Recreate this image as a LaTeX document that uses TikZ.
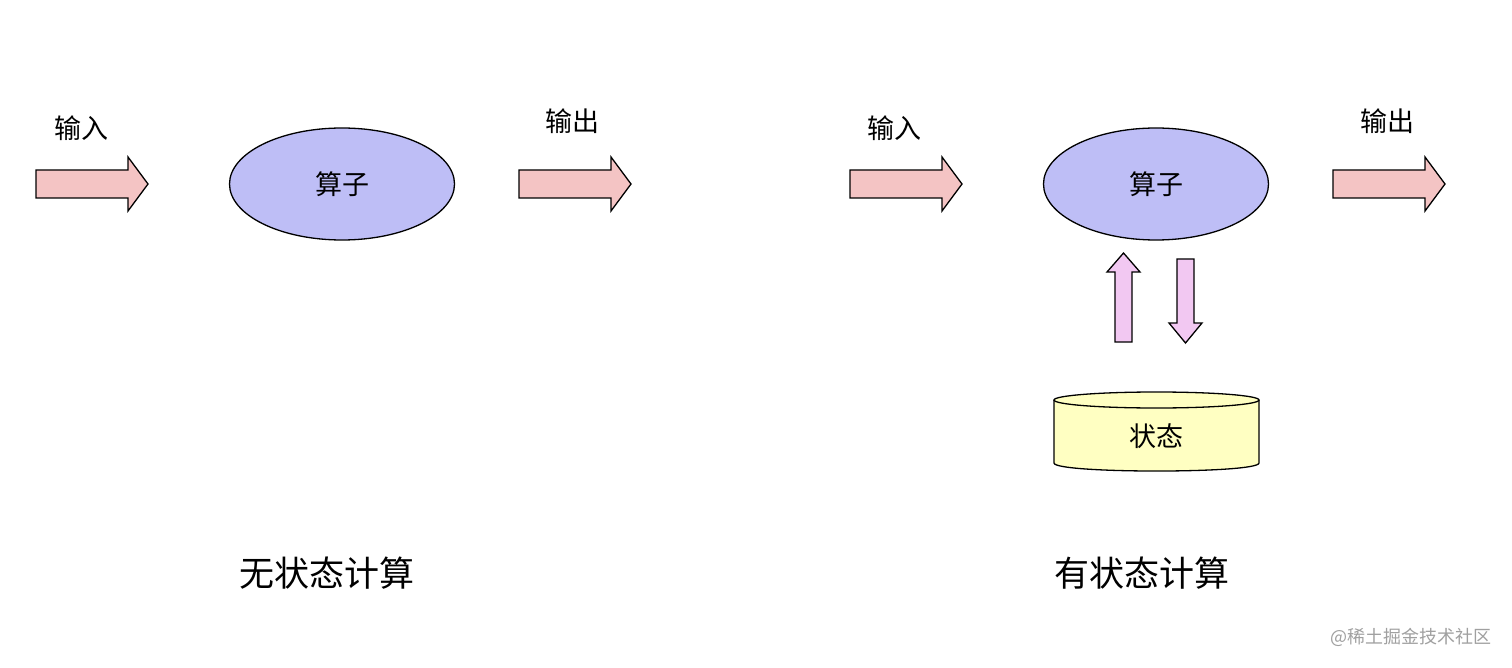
\documentclass[tikz,border=0pt]{standalone}
\usepackage{fontspec}
\newfontfamily\cjk{Noto Sans CJK SC}
\usetikzlibrary{shapes.geometric}
\definecolor{arrowpink}{HTML}{F4C4C4}
\definecolor{opblue}{HTML}{BEBEF6}
\definecolor{statepink}{HTML}{F2C8F2}
\definecolor{stateyellow}{HTML}{FFFFC2}
\definecolor{wmgray}{HTML}{A0A0A0}
\newcommand\myrarrow[3]{% name, x, y
  \draw[flowarrow] (#2,#3) ++(0,-14) -- ++(92,0) -- ++(0,-13) -- ++(20,27) -- ++(-20,27) -- ++(0,-13) -- ++(-92,0) -- cycle;
  \coordinate (#1) at (#2+56,#3);
}
\begin{document}
\begin{tikzpicture}[x=1pt,y=-1pt,
  flowarrow/.style={fill=arrowpink,draw=black,line width=1.3pt,line join=miter},
  statearrow/.style={fill=statepink,draw=black,line width=1.3pt,line join=miter},
  opnode/.style={ellipse,draw=black,line width=1.3pt,fill=opblue,minimum width=225pt,minimum height=112pt,inner sep=0pt,font=\cjk\fontsize{27}{32}\selectfont},
  lbl/.style={font=\cjk\fontsize{27}{32}\selectfont,inner sep=0pt},
  title/.style={font=\cjk\fontsize{35}{42}\selectfont,inner sep=0pt}]
\useasboundingbox[fill=white] (0,0) rectangle (1512,668);

% left: stateless
\myrarrow{inA}{36}{184}
\node[lbl] (inAlbl) at (81,128) {输入};
\node[opnode] (opA) at (342,184) {算子};
\myrarrow{outA}{519}{184}
\node[lbl] (outAlbl) at (572,121) {输出};
\node[title] (titleA) at (327,573) {无状态计算};

% right: stateful
\myrarrow{inB}{850}{184}
\node[lbl] (inBlbl) at (894,128) {输入};
\node[opnode] (opB) at (1156,184) {算子};
\myrarrow{outB}{1333}{184}
\node[lbl] (outBlbl) at (1387,121) {输出};
\node[title] (titleB) at (1142,573) {有状态计算};

% state arrows
\draw[statearrow] (1115,342) -- (1115,272) -- (1107,272) -- (1123.5,253) -- (1140,272) -- (1132,272) -- (1132,342) -- cycle;
\draw[statearrow] (1177,259) -- (1194,259) -- (1194,323) -- (1202,323) -- (1185.5,343) -- (1169,323) -- (1177,323) -- cycle;

% state cylinder
\fill[stateyellow] (1054,400) -- (1054,463) .. controls (1054,473.7) and (1259,473.7) .. (1259,463) -- (1259,400) -- cycle;
\draw[line width=1.3pt] (1054,400) -- (1054,463) .. controls (1054,473.7) and (1259,473.7) .. (1259,463) -- (1259,400);
\draw[line width=1.3pt,fill=stateyellow] (1156.5,400) ellipse [x radius=102.5, y radius=8];
\node[lbl] (state) at (1156.5,436) {状态};

% watermark
\node[font=\cjk\fontsize{18}{22}\selectfont,text=wmgray,inner sep=0pt] (wm) at (1411,637) {@稀土掘金技术社区};
\end{tikzpicture}
\end{document}
